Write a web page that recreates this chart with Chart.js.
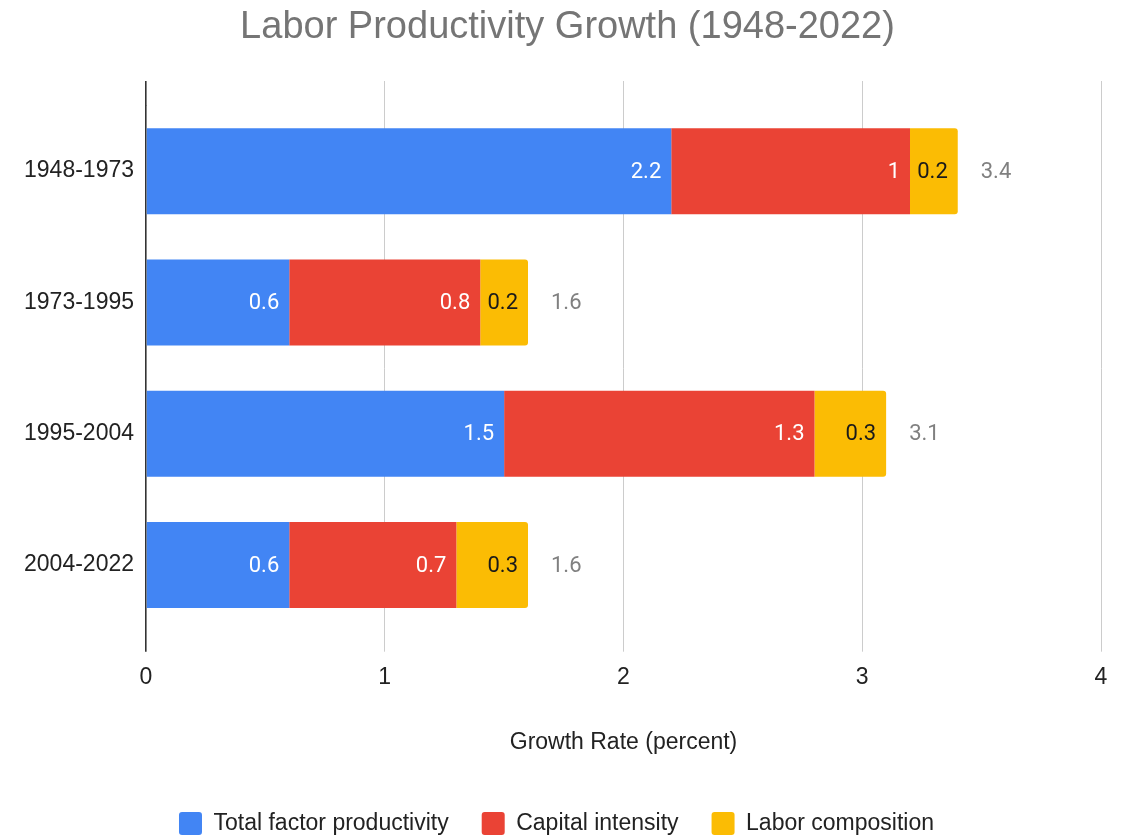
<!DOCTYPE html>
<html>
<head>
<meta charset="utf-8">
<title>Labor Productivity Growth (1948-2022)</title>
<script src="https://cdn.jsdelivr.net/npm/chart.js@4.4.1/dist/chart.umd.min.js"></script>
<style>
  html, body { margin: 0; padding: 0; background: #ffffff; }
  #wrap { width: 1122px; height: 836px; }
</style>
</head>
<body>
<div id="wrap"><canvas id="chart" width="1122" height="836"></canvas></div>
<script>
// Period categories and the contribution of each component (percentage points)
const categories = ['1948-1973', '1973-1995', '1995-2004', '2004-2022'];
const totalFactorProductivity = [2.2, 0.6, 1.5, 0.6];
const capitalIntensity = [1, 0.8, 1.3, 0.7];
const laborComposition = [0.2, 0.2, 0.3, 0.3];
const totals = [3.4, 1.6, 3.1, 1.6];
const xTicks = [0, 1, 2, 3, 4];

const seriesNames = ['Total factor productivity', 'Capital intensity', 'Labor composition'];
const seriesColors = ['#4285F4', '#EA4335', '#FBBC04'];
const segmentLabelColors = ['#ffffff', '#ffffff', '#1a1a1a'];

const SANS = "'Liberation Sans', Arial, sans-serif";

const gridColor = ctx => (ctx.tick && ctx.tick.value === 0) ? '#333333' : '#cccccc';
const gridWidth = ctx => (ctx.tick && ctx.tick.value === 0) ? 1.6 : 1;

// Value labels inside each segment plus the stack total beyond the bar
const barLabels = {
  id: 'barLabels',
  afterDatasetsDraw(chart) {
    const { ctx } = chart;
    const xs = chart.scales.x;
    ctx.save();
    ctx.font = '22px Roboto';
    ctx.textBaseline = 'middle';
    ctx.textAlign = 'right';
    chart.data.datasets.forEach((ds, i) => {
      const meta = chart.getDatasetMeta(i);
      ctx.fillStyle = segmentLabelColors[i];
      meta.data.forEach((bar, j) => {
        ctx.fillText(String(ds.data[j]), bar.x - 10, bar.y + 1);
      });
    });
    const lastMeta = chart.getDatasetMeta(chart.data.datasets.length - 1);
    ctx.fillStyle = '#808080';
    ctx.textAlign = 'left';
    totals.forEach((t, j) => {
      ctx.fillText(String(t), xs.getPixelForValue(t) + 23, lastMeta.data[j].y + 1);
    });
    ctx.restore();
  }
};

// Nudge the title and legend blocks so they sit centred over the plot
const blockOffsets = {
  id: 'blockOffsets',
  afterLayout(chart) {
    if (chart.titleBlock) chart.titleBlock.left += 34;
    if (chart.legend) chart.legend.left += 12;
  }
};

const seriesData = [totalFactorProductivity, capitalIntensity, laborComposition];

new Chart(document.getElementById('chart'), {
  type: 'bar',
  data: {
    labels: categories,
    datasets: seriesData.map((d, i) => ({
      label: seriesNames[i],
      data: d,
      backgroundColor: seriesColors[i],
      borderWidth: 0,
      borderSkipped: 'start',
      borderRadius: i === seriesData.length - 1 ? 3 : 0,
      barPercentage: 0.655,
      categoryPercentage: 1.0
    }))
  },
  options: {
    indexAxis: 'y',
    responsive: false,
    animation: false,
    events: [],
    layout: { padding: { left: 0, right: 21, top: 0, bottom: -9 } },
    scales: {
      x: {
        type: 'linear',
        position: 'bottom',
        stacked: true,
        min: 0,
        max: 4,
        afterBuildTicks: s => { s.ticks = xTicks.map(v => ({ value: v })); },
        afterFit: s => { s.height = 148.3; },
        grid: {
          color: gridColor,
          lineWidth: gridWidth,
          drawTicks: true,
          tickLength: 21
        },
        border: { display: false },
        ticks: {
          color: '#222222',
          padding: 12,
          font: { family: SANS, size: 23 }
        },
        title: {
          display: true,
          text: 'Growth Rate (percent)',
          color: '#222222',
          font: { family: SANS, size: 23 },
          padding: { top: 4, bottom: 23 }
        }
      },
      xTop: {
        type: 'linear',
        position: 'top',
        min: 0,
        max: 4,
        afterBuildTicks: s => { s.ticks = xTicks.map(v => ({ value: v })); },
        afterFit: s => { s.height = 24.5; },
        grid: {
          color: gridColor,
          lineWidth: gridWidth,
          drawOnChartArea: false,
          drawTicks: true,
          tickLength: 24.5
        },
        border: { display: false },
        ticks: { display: false }
      },
      y: {
        stacked: true,
        afterFit: s => { s.width = 146; },
        grid: { display: false, drawTicks: false },
        border: { display: false },
        ticks: {
          color: '#222222',
          padding: 12,
          font: { family: SANS, size: 23 }
        }
      }
    },
    plugins: {
      title: {
        display: true,
        text: 'Labor Productivity Growth (1948-2022)',
        color: '#757575',
        font: { family: SANS, size: 38, weight: 'normal' },
        padding: { top: 5, bottom: 30.4 }
      },
      legend: {
        position: 'bottom',
        labels: {
          boxWidth: 23,
          boxHeight: 23,
          padding: 33,
          color: '#222222',
          font: { family: SANS, size: 23 },
          useBorderRadius: true,
          borderRadius: 3
        }
      },
      tooltip: { enabled: false }
    }
  },
  plugins: [barLabels, blockOffsets]
});
</script>
</body>
</html>
